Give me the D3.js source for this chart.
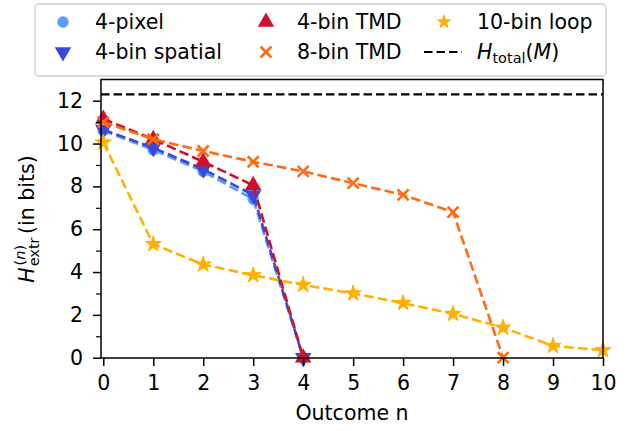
<!DOCTYPE html>
<html>
<head>
<meta charset="utf-8">
<script src="https://cdn.jsdelivr.net/npm/d3@7"></script>
<style>
  html, body { margin: 0; padding: 0; background: #fff; }
  svg { display: block; font-family: "DejaVu Sans", sans-serif; }
</style>
</head>
<body>
<svg id="chart" width="626" height="431"></svg>
<script>
// Extractable entropy per outcome for each coarse-graining scheme
const outcomes = [0, 1, 2, 3, 4, 5, 6, 7, 8, 9, 10];
const pixel4 = [10.6, 9.7, 8.7, 7.4, 0];
const spatial4 = [10.65, 9.8, 8.8, 7.6, 0];
const tmd4 = [11.15, 10.2, 9.15, 8.05, 0];
const tmd8 = [11.0, 10.2, 9.65, 9.15, 8.7, 8.15, 7.6, 6.8, 0];
const loop10 = [10.05, 5.3, 4.35, 3.85, 3.4, 3.0, 2.55, 2.05, 1.4, 0.55, 0.35];
const hTotal = 12.3;
const yTicks = [0, 2, 4, 6, 8, 10, 12];
const yMinorTicks = [1, 3, 5, 7, 9, 11];

const series = [
  { name: "4-pixel", values: pixel4, color: "#5a9bff", marker: "circle" },
  { name: "4-bin spatial", values: spatial4, color: "#3a47d8", marker: "down" },
  { name: "4-bin TMD", values: tmd4, color: "#d0102a", marker: "up" },
  { name: "8-bin TMD", values: tmd8, color: "#ff6a13", marker: "x" },
  { name: "10-bin loop", values: loop10, color: "#ffb000", marker: "star" }
];

const svg = d3.select("#chart");
const plotLeft = 101, plotRight = 603, plotTop = 79.5, plotBottom = 358;

const x = d3.scaleLinear().domain([-0.046, 10]).range([plotLeft, plotRight]);
const y = d3.scaleLinear().domain([0, 13]).range([357.7, 79.3]);

const fontSize = 20.5;

// Marker drawing shared by the plot and the legend
function drawMarker(g, type, color, cx, cy, starSize) {
  if (type === "circle") {
    g.append("circle").attr("cx", cx).attr("cy", cy).attr("r", 5.7).attr("fill", color);
  } else if (type === "up" || type === "down") {
    g.append("path")
      .attr("d", d3.symbol(d3.symbolTriangle, 118)())
      .attr("transform", `translate(${cx},${cy}) rotate(${type === "up" ? 0 : 180})`)
      .attr("fill", color);
  } else if (type === "x") {
    const s = 5.5;
    g.append("path")
      .attr("d", `M${cx - s},${cy - s}L${cx + s},${cy + s}M${cx - s},${cy + s}L${cx + s},${cy - s}`)
      .attr("stroke", color).attr("stroke-width", 2.6).attr("fill", "none");
  } else if (type === "star") {
    g.append("path")
      .attr("d", d3.symbol(d3.symbolStar, starSize || 80)())
      .attr("transform", `translate(${cx},${cy})`)
      .attr("fill", color)
      .attr("stroke", color).attr("stroke-width", 1).attr("stroke-linejoin", "round");
  }
}

const plot = svg.append("g");

// Total entropy reference line
plot.append("line")
  .attr("x1", plotLeft).attr("x2", plotRight)
  .attr("y1", y(hTotal)).attr("y2", y(hTotal))
  .attr("stroke", "#000").attr("stroke-width", 2.2)
  .attr("stroke-dasharray", "8.5,4");

const line = d3.line().x((d, i) => x(outcomes[i])).y(d => y(d));

series.forEach(s => {
  const g = plot.append("g");
  g.append("path")
    .attr("d", line(s.values))
    .attr("fill", "none")
    .attr("stroke", s.color)
    .attr("stroke-width", 2.6)
    .attr("stroke-dasharray", "9.6,4.2");
  s.values.forEach((v, i) => drawMarker(g, s.marker, s.color, x(outcomes[i]), y(v)));
});

// Frame
svg.append("rect")
  .attr("x", plotLeft).attr("y", plotTop)
  .attr("width", plotRight - plotLeft).attr("height", plotBottom - plotTop)
  .attr("fill", "none").attr("stroke", "#000").attr("stroke-width", 1.5);

// X axis
const xAxis = d3.axisBottom(x).tickValues(outcomes).tickFormat(d3.format("d")).tickSize(8).tickPadding(9);
const gx = svg.append("g").attr("transform", `translate(0,${plotBottom})`).call(xAxis);
gx.select(".domain").remove();
gx.selectAll(".tick line").attr("stroke", "#000").attr("stroke-width", 1.5);
gx.selectAll(".tick text").attr("font-size", fontSize).attr("font-family", "DejaVu Sans").attr("fill", "#000");

// Y axis with major and minor ticks
const yAxis = d3.axisLeft(y).tickValues(yTicks).tickFormat(d3.format("d")).tickSize(8).tickPadding(10);
const gy = svg.append("g").attr("transform", `translate(${plotLeft},0)`).call(yAxis);
gy.select(".domain").remove();
gy.selectAll(".tick line").attr("stroke", "#000").attr("stroke-width", 1.5);
gy.selectAll(".tick text").attr("font-size", fontSize).attr("font-family", "DejaVu Sans").attr("fill", "#000");

const gyMinor = svg.append("g").attr("transform", `translate(${plotLeft},0)`)
  .call(d3.axisLeft(y).tickValues(yMinorTicks).tickFormat("").tickSize(5));
gyMinor.select(".domain").remove();
gyMinor.selectAll(".tick line").attr("stroke", "#000").attr("stroke-width", 1.2);

// Axis titles
svg.append("text")
  .attr("x", (plotLeft + plotRight) / 2).attr("y", 420)
  .attr("text-anchor", "middle").attr("font-size", fontSize)
  .text("Outcome n");

const ylab = svg.append("text")
  .attr("transform", `translate(34,219) rotate(-90)`)
  .attr("text-anchor", "middle").attr("font-size", fontSize);
ylab.append("tspan").attr("font-style", "italic").text("H");
ylab.append("tspan").attr("font-size", 14.5).attr("dy", 5).attr("dx", 1).text("extr");
ylab.append("tspan").attr("font-size", 14.5).attr("dy", -14).attr("dx", -28).text("(");
ylab.append("tspan").attr("font-size", 14.5).attr("font-style", "italic").text("n");
ylab.append("tspan").attr("font-size", 14.5).text(")");
ylab.append("tspan").attr("dy", 9).attr("dx", 11).text("(in bits)");

// Legend
const legend = svg.append("g");
legend.append("rect")
  .attr("x", 35).attr("y", 4).attr("width", 571).attr("height", 72)
  .attr("rx", 4).attr("fill", "#fff").attr("stroke", "#d0d0d0").attr("stroke-width", 1.5);

const colX = [63, 266, 444];
const textX = [95, 297, 477];
const rowY = [22, 52];
series.forEach((s, i) => {
  const col = Math.floor(i / 2), row = i % 2;
  drawMarker(legend, s.marker, s.color, colX[col], rowY[row], 55);
  legend.append("text")
    .attr("x", textX[col]).attr("y", rowY[row] + 7)
    .attr("font-size", fontSize).text(s.name);
});
legend.append("line")
  .attr("x1", 424).attr("x2", 462).attr("y1", rowY[1]).attr("y2", rowY[1])
  .attr("stroke", "#000").attr("stroke-width", 2.2).attr("stroke-dasharray", "8.5,4");
const ht = legend.append("text").attr("x", textX[2]).attr("y", rowY[1] + 7).attr("font-size", fontSize);
ht.append("tspan").attr("font-style", "italic").text("H");
ht.append("tspan").attr("font-size", 14.5).attr("dy", 4).text("total");
ht.append("tspan").attr("dy", -4).text("(");
ht.append("tspan").attr("font-style", "italic").text("M");
ht.append("tspan").text(")");
</script>
</body>
</html>
